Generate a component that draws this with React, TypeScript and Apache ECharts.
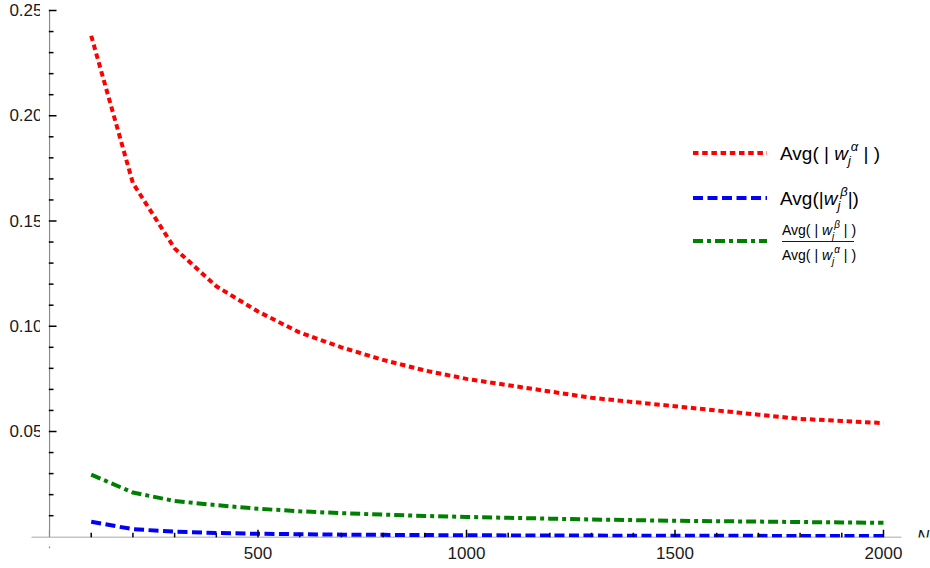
import React, { useEffect, useRef } from "react";
import * as echarts from "echarts";

const nValues = [100, 200, 300, 400, 500, 600, 700, 800, 900, 1000, 1100, 1200, 1300, 1400, 1500, 1600, 1700, 1800, 1900, 2000];
const avgAlpha = [0.238, 0.168, 0.137, 0.119, 0.107, 0.097, 0.090, 0.084, 0.079, 0.075, 0.072, 0.069, 0.066, 0.064, 0.062, 0.060, 0.058, 0.056, 0.055, 0.054];
const avgBeta = [0.0071, 0.0036, 0.0024, 0.0018, 0.0014, 0.0012, 0.0010, 0.0009, 0.0008, 0.0007, 0.00065, 0.0006, 0.00055, 0.0005, 0.00047, 0.00044, 0.00042, 0.0004, 0.00037, 0.00035];
const ratio = [0.0295, 0.021, 0.017, 0.015, 0.0133, 0.0121, 0.0112, 0.0105, 0.0099, 0.0094, 0.009, 0.0086, 0.0082, 0.0079, 0.0076, 0.0074, 0.0072, 0.007, 0.0068, 0.0066];

const xMajorTicks = [500, 1000, 1500, 2000];
const xMinorTicks = [100, 200, 300, 400, 600, 700, 800, 900, 1100, 1200, 1300, 1400, 1600, 1700, 1800, 1900];
const yMajorTicks = [0.05, 0.1, 0.15, 0.2, 0.25];
const yMinorTicks = [0.01, 0.02, 0.03, 0.04, 0.06, 0.07, 0.08, 0.09, 0.11, 0.12, 0.13, 0.14, 0.16, 0.17, 0.18, 0.19, 0.21, 0.22, 0.23, 0.24];

const FONT = "'Liberation Sans', Arial, sans-serif";
const AXIS_GRAY = "#8a8a8a";
const TICK = "#000";
const TEXT = "#1a1a1a";

const pair = (xs: number[], ys: number[]) => xs.map((x, i) => [x, ys[i]]);

function richStyles(big: number, small: number) {
  return {
    n: { fontSize: big, fontFamily: FONT, color: TEXT, verticalAlign: "middle", lineHeight: big + 8 },
    w: { fontSize: big, fontFamily: FONT, fontStyle: "italic", color: TEXT, verticalAlign: "middle", lineHeight: big + 8 },
    sub: { fontSize: small, fontFamily: FONT, fontStyle: "italic", color: TEXT, verticalAlign: "bottom", lineHeight: small + 3 },
    sup: { fontSize: small, fontFamily: FONT, fontStyle: "italic", color: TEXT, verticalAlign: "top", lineHeight: small + 3 },
  };
}

export default function App() {
  const ref = useRef<HTMLDivElement>(null);
  useEffect(() => {
    if (!ref.current) return;
    const chart = echarts.init(ref.current, undefined, { renderer: "svg" });
    const W = 930, H = 568;
    const gLeft = 32, gRight = 29, gTop = 10.5, gBottom = 20.3;
    const xMin = -42, xMax = 2042, yMin = -0.0052, yMax = 0.25;
    const gW = W - gLeft - gRight, gH = H - gTop - gBottom;
    const yAxisOffset = -((0 - xMin) / (xMax - xMin)) * gW;
    const xAxisOffset = -((0 - yMin) / (yMax - yMin)) * gH;
    const legendX1 = 693, legendX2 = 767, textX = 780;

    const xTickData = [...xMajorTicks.map((v) => [v, 0, 7]), ...xMinorTicks.map((v) => [v, 0, 4])];
    const yTickData = [...yMajorTicks.map((v) => [0, v, 7]), ...yMinorTicks.map((v) => [0, v, 4])];

    chart.setOption({
      animation: false,
      backgroundColor: "#fff",
      grid: { left: gLeft, right: gRight, top: gTop, bottom: gBottom, containLabel: false, outerBoundsMode: "none" },
      xAxis: {
        type: "value", min: xMin, max: xMax, position: "bottom", offset: xAxisOffset,
        name: "N", nameLocation: "end", nameGap: 16,
        nameTextStyle: { fontFamily: FONT, fontStyle: "italic", fontSize: 17, color: TEXT, verticalAlign: "middle" },
        axisLine: { onZero: false, lineStyle: { color: AXIS_GRAY, width: 1.3 } },
        axisTick: { show: false },
        axisLabel: { show: true, customValues: xMajorTicks, margin: 8, fontFamily: FONT, fontSize: 17, color: TEXT, formatter: (v: number) => String(v) },
        splitLine: { show: false },
      },
      yAxis: {
        type: "value", min: yMin, max: yMax, position: "left", offset: yAxisOffset,
        axisLine: { onZero: false, lineStyle: { color: AXIS_GRAY, width: 1.3 } },
        axisTick: { show: false },
        axisLabel: {
          show: true, customValues: yMajorTicks, margin: 7, fontFamily: FONT, fontSize: 17, color: TEXT,
          formatter: (v: number) => v.toFixed(2),
        },
        splitLine: { show: false },
      },
      series: [
        {
          name: "xticks", type: "scatter", data: xTickData,
          symbol: "rect",
          symbolSize: (val: number[]) => [1.5, val[2] * 2],
          itemStyle: { color: TICK, opacity: 1 },
          silent: true, z: 10, clip: false,
        },
        {
          name: "yticks", type: "scatter", data: yTickData,
          symbol: "rect",
          symbolSize: (val: number[]) => [val[2] * 2, 1.5],
          itemStyle: { color: TICK, opacity: 1 },
          silent: true, z: 10, clip: false,
        },
        {
          name: "alpha", type: "line", data: pair(nValues, avgAlpha), showSymbol: false, symbol: "none",
          lineStyle: { color: "#ff0000", width: 4, type: [5.5, 3.7], cap: "butt" }, z: 3,
        },
        {
          name: "beta", type: "line", data: pair(nValues, avgBeta), showSymbol: false, symbol: "none",
          lineStyle: { color: "#0000ff", width: 4, type: [10, 4.5], cap: "butt" }, z: 3,
        },
        {
          name: "ratio", type: "line", data: pair(nValues, ratio), showSymbol: false, symbol: "none",
          lineStyle: { color: "#008000", width: 4, type: [10, 4, 4, 4], cap: "butt" }, z: 3,
        },
      ],
      graphic: [
        // white masks hide the outer half of each tick so ticks point inward only
        { type: "rect", shape: { x: 0, y: 537.5, width: 930, height: 9 }, style: { fill: "#fff" }, z: 20, silent: true },
        { type: "rect", shape: { x: 40, y: 0, width: 8.8, height: 530 }, style: { fill: "#fff" }, z: 20, silent: true },
        { type: "line", shape: { x1: legendX1, y1: 153, x2: legendX2, y2: 153 }, style: { stroke: "#ff0000", lineWidth: 4, lineDash: [5.5, 3.7] } },
        {
          type: "text", x: textX, y: 153,
          style: { text: "{n|Avg( | }{w|w}{sub|j}{sup|α}{n| | )}", rich: richStyles(19, 13), verticalAlign: "middle", align: "left" },
        },
        { type: "line", shape: { x1: legendX1, y1: 198, x2: legendX2, y2: 198 }, style: { stroke: "#0000ff", lineWidth: 4, lineDash: [10, 4.5] } },
        {
          type: "text", x: textX, y: 198,
          style: { text: "{n|Avg(|}{w|w}{sub|j}{sup|β}{n||)}", rich: richStyles(19, 13), verticalAlign: "middle", align: "left" },
        },
        { type: "line", shape: { x1: legendX1, y1: 241, x2: legendX2, y2: 241 }, style: { stroke: "#008000", lineWidth: 4, lineDash: [10, 4, 4, 4] } },
        {
          type: "text", x: 782, y: 230,
          style: { text: "{n|Avg( | }{w|w}{sub|j}{sup|β}{n| | )}", rich: richStyles(14, 10), verticalAlign: "middle", align: "left" },
        },
        { type: "line", shape: { x1: 782, y1: 241.5, x2: 854, y2: 241.5 }, style: { stroke: TEXT, lineWidth: 1 } },
        {
          type: "text", x: 782, y: 255,
          style: { text: "{n|Avg( | }{w|w}{sub|j}{sup|α}{n| | )}", rich: richStyles(14, 10), verticalAlign: "middle", align: "left" },
        },
      ],
    });
    return () => chart.dispose();
  }, []);
  return <div ref={ref} style={{ position: "fixed", left: 0, top: 0, width: 930, height: 568 }} />;
}
